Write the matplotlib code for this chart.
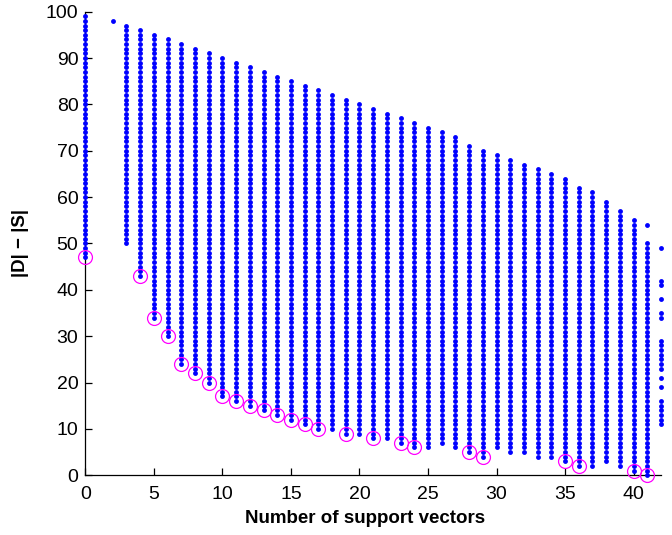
import matplotlib
matplotlib.use("Agg")
import matplotlib.pyplot as plt
import numpy as np

plt.rcParams['font.family'] = ['Liberation Sans', 'DejaVu Sans']

# Per-column contiguous range of |D|-|S| values (x = number of support vectors)
col_x   = [0, 2, 3, 4, 5, 6, 7, 8, 9, 10, 11, 12, 13, 14, 15, 16, 17, 18, 19, 20,
           21, 22, 23, 24, 25, 26, 27, 28, 29, 30, 31, 32, 33, 34, 35, 36, 37, 38, 39, 40, 41]
col_min = [47, 98, 50, 43, 34, 30, 24, 22, 20, 17, 16, 15, 14, 13, 12, 11, 10, 10, 9, 9,
           8, 8, 7, 6, 6, 7, 6, 5, 4, 6, 5, 5, 4, 4, 3, 2, 2, 3, 2, 1, 0]
col_max = [99, 98, 97, 96, 95, 94, 93, 92, 91, 90, 89, 88, 87, 86, 85, 84, 83, 82, 81, 80,
           79, 78, 77, 76, 75, 74, 73, 71, 70, 69, 68, 67, 66, 65, 64, 62, 61, 59, 57, 55, 50]

# Isolated extra points
extra_x = [41]
extra_y = [54]
last_x = 42
last_y = [49, 42, 41, 38, 35, 34, 29, 28, 27, 26, 25, 24, 23, 21, 19, 16, 15, 14, 13, 12, 11]

# Highlighted (circled) points
circ_x = [0, 4, 5, 6, 7, 8, 9, 10, 11, 12, 13, 14, 15, 16, 17, 19, 21, 23, 24, 28, 29, 35, 36, 40, 41]
circ_y = [47, 43, 34, 30, 24, 22, 20, 17, 16, 15, 14, 13, 12, 11, 10, 9, 8, 7, 6, 5, 4, 3, 2, 1, 0]

xs, ys = [], []
for x, lo, hi in zip(col_x, col_min, col_max):
    vals = list(range(lo, hi + 1))
    xs += [x] * len(vals)
    ys += vals
xs += extra_x
ys += extra_y
xs += [last_x] * len(last_y)
ys += last_y

fig = plt.figure(figsize=(6.72, 5.35), dpi=100)
ax = fig.add_axes([0.127, 0.1116, 0.8566, 0.8666])

ax.plot(xs, ys, 'o', color='#0000ff', markersize=3.5, markeredgewidth=0, clip_on=False, zorder=3)
ax.plot(circ_x, circ_y, 'o', markerfacecolor='none', markeredgecolor='#ff00ff',
        markersize=10, markeredgewidth=0.9, clip_on=False, zorder=4)

ax.set_xlim(0, 42)
ax.set_ylim(0, 100)
ax.set_xticks(np.arange(0, 41, 5))
ax.set_yticks(np.arange(0, 101, 10))
ax.spines['top'].set_visible(False)
ax.spines['right'].set_visible(False)
for s in ['left', 'bottom']:
    ax.spines[s].set_linewidth(0.9)
ax.tick_params(direction='in', length=5, width=0.9, labelsize=14)
ax.tick_params(axis='x', pad=8)
ax.tick_params(axis='y', pad=5)
ax.set_xlabel('Number of support vectors', fontsize=13.5, fontweight='bold', labelpad=3)
ax.set_ylabel('|D| \u2212 |S|', fontsize=13.5, fontweight='bold', labelpad=12)
ax.xaxis.set_label_coords(0.486, -0.075)

fig.savefig('out.png', dpi=100)
